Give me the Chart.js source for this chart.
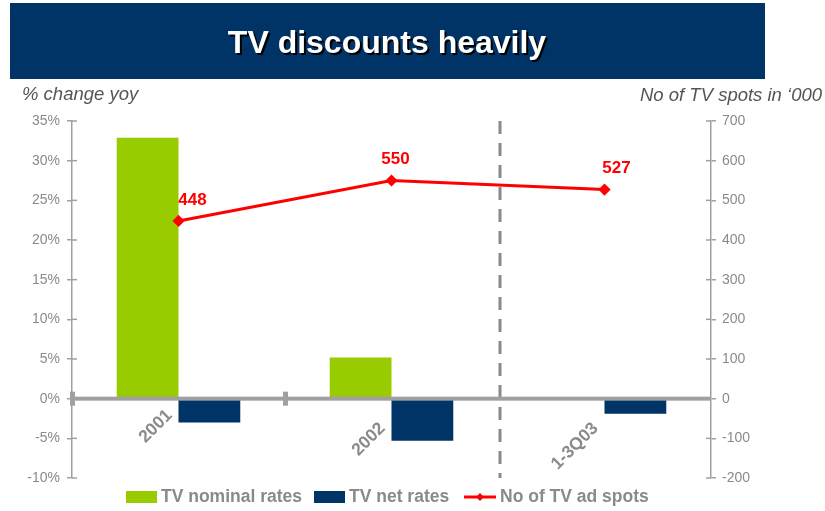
<!DOCTYPE html>
<html>
<head>
<meta charset="utf-8">
<script src="https://cdn.jsdelivr.net/npm/chart.js@4"></script>
<style>
  html, body { margin: 0; padding: 0; background: #fff; }
  #wrap { width: 825px; height: 511px; position: relative; }
</style>
</head>
<body>
<div id="wrap"><canvas id="myChart" width="825" height="511"></canvas></div>
<script>
// data
const categories = ['2001', '2002', '1-3Q03'];
const nominalRates = [32.9, 5.2, 0];
const netRates = [-3.0, -5.3, -1.9];
const adSpots = [448, 550, 527];
const leftTicks = [35, 30, 25, 20, 15, 10, 5, 0, -5, -10];
const rightTicks = [700, 600, 500, 400, 300, 200, 100, 0, -100, -200];

const GREY = '#8a8a8a';
const GREEN = '#99cc00';
const NAVY = '#003366';
const RED = '#ff0000';
const FONT = '"Liberation Sans", Arial, sans-serif';

const ctx = document.getElementById('myChart');

const decor = {
  id: 'decor',
  beforeDraw(chart) {
    const c = chart.ctx;
    c.save();
    // title banner
    c.fillStyle = NAVY;
    c.fillRect(10, 3, 755, 76);
    c.font = 'bold 32px ' + FONT;
    c.textAlign = 'center';
    c.textBaseline = 'middle';
    c.fillStyle = '#000';
    c.fillText('TV discounts heavily', 389, 46);
    c.fillStyle = '#fff';
    c.fillText('TV discounts heavily', 387, 44);
    // axis titles
    c.font = 'italic 18.5px ' + FONT;
    c.fillStyle = '#555';
    c.textAlign = 'left';
    c.fillText('% change yoy', 22, 95);
    c.textAlign = 'right';
    c.fillText('No of TV spots in \u2018000', 822, 96);
    c.restore();
  },
  beforeDatasetsDraw(chart) {
    const c = chart.ctx;
    const x = chart.scales.x;
    const a = chart.chartArea;
    c.save();
    // dashed divider between 2002 and 1-3Q03
    const xd = (x.getPixelForValue(1) + x.getPixelForValue(2)) / 2 + 2;
    c.strokeStyle = GREY;
    c.lineWidth = 3;
    c.setLineDash([13, 9]);
    c.beginPath();
    c.moveTo(xd, a.top);
    c.lineTo(xd, a.bottom);
    c.stroke();
    c.restore();
  },
  afterDatasetsDraw(chart) {
    const c = chart.ctx;
    const x = chart.scales.x;
    const yl = chart.scales.yL;
    const yr = chart.scales.yR;
    const a = chart.chartArea;
    c.save();
    // zero line
    const y0 = yl.getPixelForValue(0);
    c.fillStyle = '#a0a0a0';
    c.fillRect(a.left, y0 - 2, a.right - a.left, 4);
    const xb = (x.getPixelForValue(0) + x.getPixelForValue(1)) / 2;
    c.fillRect(xb - 2, y0 - 7, 5, 14);
    c.fillRect(a.left - 2, y0 - 7, 5, 14);
    // tick crosses on the axes
    c.strokeStyle = '#a0a0a0';
    c.lineWidth = 1.5;
    leftTicks.forEach(v => {
      const y = yl.getPixelForValue(v);
      c.beginPath(); c.moveTo(a.left, y); c.lineTo(a.left + 5, y); c.stroke();
    });
    rightTicks.forEach(v => {
      const y = yr.getPixelForValue(v);
      c.beginPath(); c.moveTo(a.right - 5, y); c.lineTo(a.right, y); c.stroke();
    });
    // rotated category labels
    c.font = 'bold 17.5px ' + FONT;
    c.fillStyle = GREY;
    c.textAlign = 'right';
    c.textBaseline = 'middle';
    const drop = [14, 27, 27];
    categories.forEach((lab, i) => {
      const px = x.getPixelForValue(i);
      c.save();
      c.translate(px - 9, y0 + drop[i]);
      c.rotate(-Math.PI / 4);
      c.fillText(lab, 0, 0);
      c.restore();
    });
    // value labels
    c.font = 'bold 17px ' + FONT;
    c.fillStyle = RED;
    c.textAlign = 'center';
    c.textBaseline = 'middle';
    adSpots.forEach((v, i) => {
      const px = x.getPixelForValue(i);
      const py = yr.getPixelForValue(v);
      c.fillText(String(v), px + (i === 0 ? 14 : (i === 1 ? 4 : 12)), py - 21);
    });
    // legend
    const ly = 497;
    c.font = 'bold 17.5px ' + FONT;
    c.textAlign = 'left';
    c.fillStyle = GREEN;
    c.fillRect(126, ly - 6, 31, 12);
    c.fillStyle = GREY;
    c.fillText('TV nominal rates', 161, ly);
    c.fillStyle = NAVY;
    c.fillRect(314, ly - 6, 31, 12);
    c.fillStyle = GREY;
    c.fillText('TV net rates', 349, ly);
    c.strokeStyle = RED;
    c.lineWidth = 3;
    c.beginPath(); c.moveTo(464, ly); c.lineTo(496, ly); c.stroke();
    c.fillStyle = RED;
    c.beginPath();
    c.moveTo(480, ly - 4); c.lineTo(484, ly); c.lineTo(480, ly + 4); c.lineTo(476, ly);
    c.closePath(); c.fill();
    c.fillStyle = GREY;
    c.fillText('No of TV ad spots', 500, ly);
    c.restore();
  }
};

new Chart(ctx, {
  type: 'bar',
  data: {
    labels: categories,
    datasets: [{
      label: 'TV nominal rates',
      data: nominalRates,
      backgroundColor: GREEN,
      yAxisID: 'yL',
      order: 2
    }, {
      label: 'TV net rates',
      data: netRates,
      backgroundColor: NAVY,
      yAxisID: 'yL',
      order: 2
    }, {
      type: 'line',
      label: 'No of TV ad spots',
      data: adSpots,
      borderColor: RED,
      backgroundColor: RED,
      borderWidth: 3,
      pointStyle: 'rectRot',
      pointRadius: 4,
      tension: 0,
      yAxisID: 'yR',
      order: 1
    }]
  },
  options: {
    responsive: false,
    animation: false,
    layout: { padding: { top: 121, bottom: 33, left: 0, right: 0 } },
    datasets: { bar: { categoryPercentage: 0.58, barPercentage: 1 } },
    plugins: { legend: { display: false }, tooltip: { enabled: false } },
    scales: {
      x: { display: false },
      yL: {
        position: 'left',
        min: -10, max: 35,
        afterFit: s => { s.width = 72; },
        afterBuildTicks: s => { s.ticks = leftTicks.map(v => ({ value: v })); },
        ticks: { color: GREY, font: { size: 14, family: FONT }, padding: 7, callback: v => v + '%' },
        grid: { drawOnChartArea: false, tickLength: 5, color: '#a0a0a0', lineWidth: 1.5 },
        border: { color: '#a0a0a0', width: 1.5 }
      },
      yR: {
        position: 'right',
        min: -200, max: 700,
        afterFit: s => { s.width = 114; },
        afterBuildTicks: s => { s.ticks = rightTicks.map(v => ({ value: v })); },
        ticks: { color: GREY, font: { size: 14, family: FONT }, padding: 6 },
        grid: { drawOnChartArea: false, tickLength: 5, color: '#a0a0a0', lineWidth: 1.5 },
        border: { color: '#a0a0a0', width: 1.5 }
      }
    }
  },
  plugins: [decor]
});
</script>
</body>
</html>
